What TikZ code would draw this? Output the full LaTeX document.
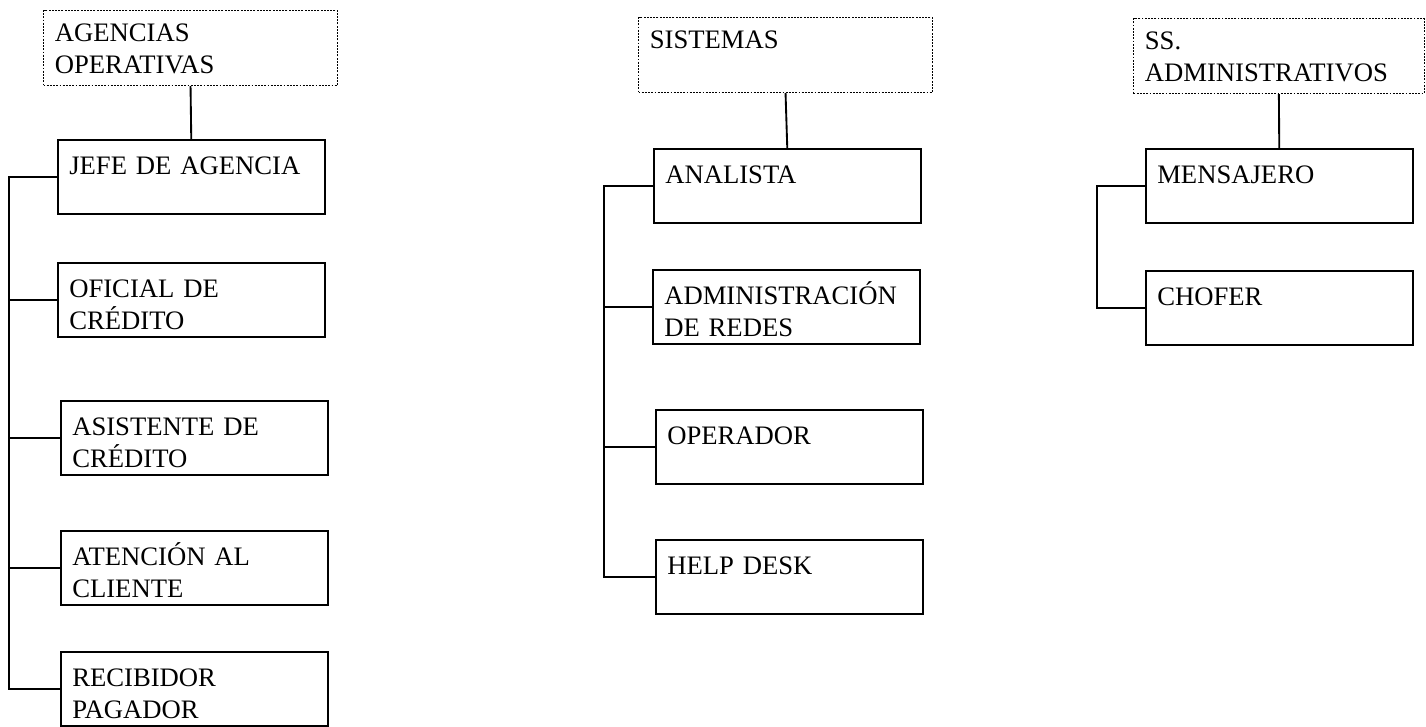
\documentclass[tikz,border=0pt]{standalone}
\usepackage{fontspec}
\setmainfont{Liberation Serif}
\usepackage{tikz}
\usetikzlibrary{calc}

\begin{document}
\begin{tikzpicture}[x=0.75pt,y=-0.75pt,
  puesto/.style={draw,line width=1.4pt,anchor=north west,inner xsep=8.5pt,inner ysep=0pt,
    text width=183pt,align=left,text height=26.25pt,text depth=29.25pt,
    font=\fontsize{20}{23.8}\selectfont},
  area/.style={puesto,densely dotted,line width=0.8pt,text width=203.5pt,
    text height=23.5pt,text depth=32.75pt},
  rama/.style={line width=1.4pt}]
\useasboundingbox (0,0) rectangle (1426,727);
% agencias operativas
\node[area] (agencias) at (43,10) {AGENCIAS\\OPERATIVAS};
\node[puesto] (jefe) at (57,139) {JEFE DE AGENCIA};
\node[puesto] (oficial) at (57,262) {OFICIAL DE\\CRÉDITO};
\node[puesto] (asistente) at (60,400) {ASISTENTE DE\\CRÉDITO};
\node[puesto] (atencion) at (60,530) {ATENCIÓN AL\\CLIENTE};
\node[puesto] (recibidor) at (60,651) {RECIBIDOR\\PAGADOR};
\coordinate (troncoA) at (9,0);
\draw[rama] (agencias.south) -- (jefe.north);
\draw[rama] (jefe.west) -- (troncoA |- jefe.west) |- (recibidor.west);
\foreach \p in {oficial,asistente,atencion}
  \draw[rama] (troncoA |- \p.west) -- (\p.west);
% sistemas
\node[area] (sistemas) at (638,17) {SISTEMAS};
\node[puesto] (analista) at (653,148) {ANALISTA};
\node[puesto] (redes) at (652,269) {ADMINISTRACIÓN\\DE REDES};
\node[puesto] (operador) at (655,409) {OPERADOR};
\node[puesto] (helpdesk) at (655,539) {HELP DESK};
\coordinate (troncoB) at (604,0);
\draw[rama] (sistemas.south) -- (analista.north);
\draw[rama] (analista.west) -- (troncoB |- analista.west) |- (helpdesk.west);
\foreach \p in {redes,operador}
  \draw[rama] (troncoB |- \p.west) -- (\p.west);
% ss. administrativos
\node[area,text width=201pt] (ssadmin) at (1133,18) {SS.\\ADMINISTRATIVOS};
\node[puesto] (mensajero) at (1145,148) {MENSAJERO};
\node[puesto] (chofer) at (1145,270) {CHOFER};
\coordinate (troncoC) at (1097,0);
\draw[rama] (ssadmin.south) -- (mensajero.north);
\draw[rama] (mensajero.west) -- (troncoC |- mensajero.west) |- (chofer.west);
\end{tikzpicture}
\end{document}
